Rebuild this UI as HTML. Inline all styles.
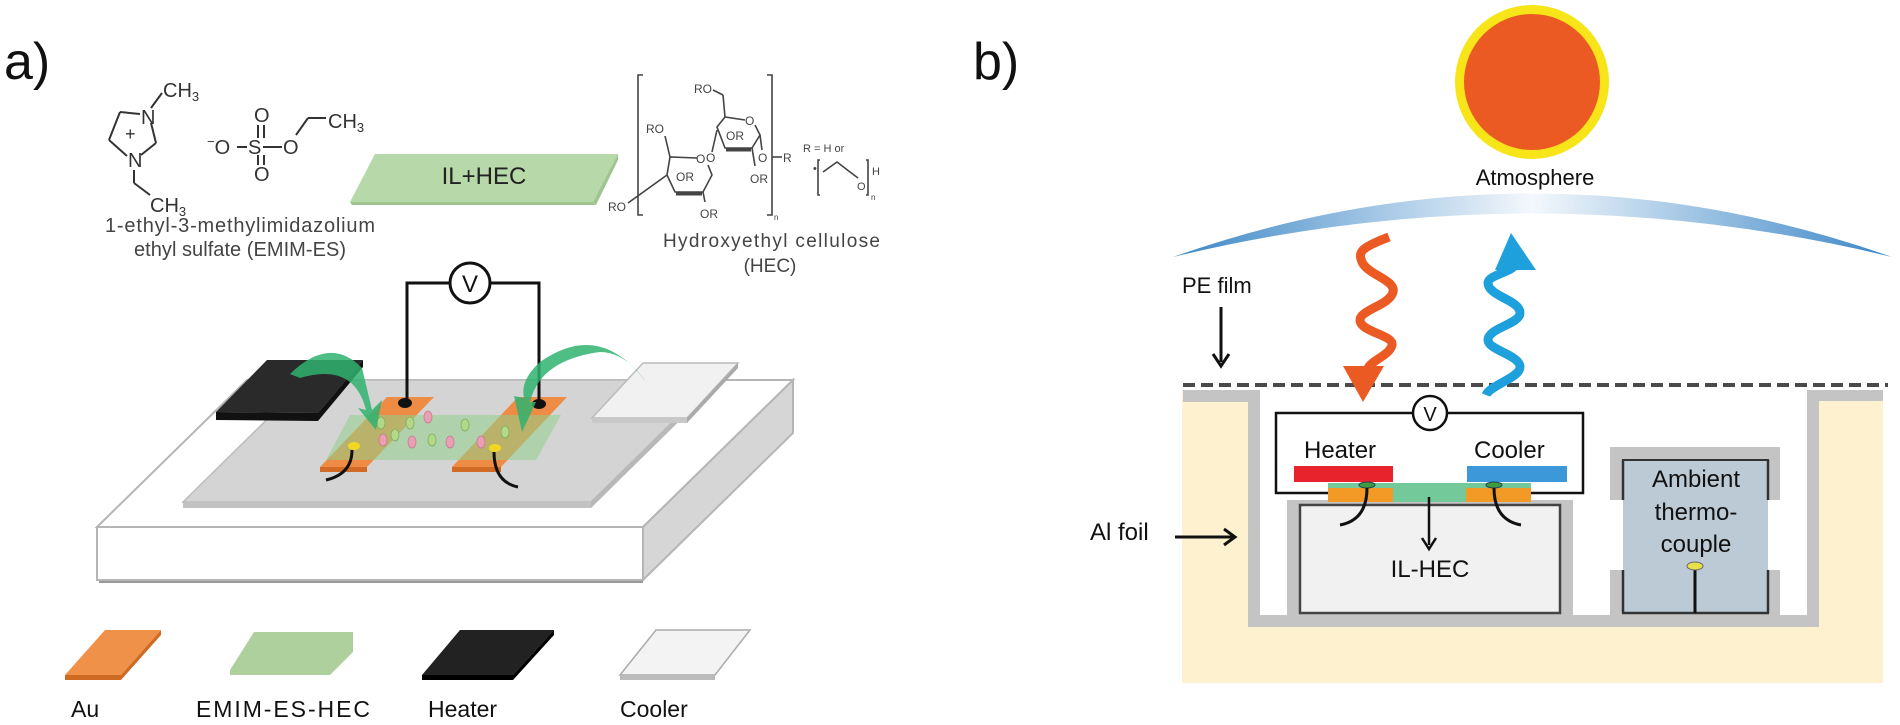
<!DOCTYPE html>
<html><head><meta charset="utf-8"><style>
html,body{margin:0;padding:0;background:#fff;}
svg{display:block;}
text{font-family:"Liberation Sans",Arial,sans-serif;}
</style></head><body>
<svg width="1900" height="725" viewBox="0 0 1900 725" xmlns="http://www.w3.org/2000/svg">
<defs>
<linearGradient id="atm" x1="0" x2="1" y1="0" y2="0">
<stop offset="0" stop-color="#3a86c6"/><stop offset="0.5" stop-color="#f4f8fc"/><stop offset="1" stop-color="#3a86c6"/>
</linearGradient>
</defs>

<!-- ============ PANEL A ============ -->
<text x="4" y="79" font-size="52" fill="#111">a)</text>

<!-- imidazolium -->
<g stroke="#333" stroke-width="2" fill="none">
<line x1="120" y1="112" x2="140" y2="114"/>
<line x1="151" y1="123" x2="156" y2="143"/>
<line x1="156" y1="143" x2="141" y2="155"/>
<line x1="127" y1="156" x2="109" y2="140"/>
<line x1="109" y1="140" x2="120" y2="112"/>
<line x1="151" y1="108" x2="162" y2="93"/>
<line x1="134" y1="170" x2="134" y2="183"/>
<line x1="134" y1="183" x2="150" y2="195"/>
</g>
<g font-size="20" fill="#333">
<text x="141" y="124">N</text>
<text x="128" y="167">N</text>
<text x="125" y="140" font-size="18">+</text>
<text x="163" y="97">CH<tspan font-size="13" dy="4">3</tspan></text>
<text x="150" y="212">CH<tspan font-size="13" dy="4">3</tspan></text>
</g>
<!-- sulfate -->
<g font-size="20" fill="#333">
<text x="207" y="154"><tspan font-size="13" dy="-8">−</tspan><tspan dy="8">O</tspan></text>
<text x="248" y="154">S</text>
<text x="254" y="122">O</text>
<text x="254" y="181">O</text>
<text x="283" y="154">O</text>
<text x="328" y="128">CH<tspan font-size="13" dy="4">3</tspan></text>
</g>
<g stroke="#333" stroke-width="2">
<line x1="237" y1="147" x2="247" y2="147"/>
<line x1="263" y1="147" x2="282" y2="147"/>
<line x1="258" y1="125" x2="258" y2="138"/><line x1="264" y1="125" x2="264" y2="138"/>
<line x1="258" y1="155" x2="258" y2="165"/><line x1="264" y1="155" x2="264" y2="165"/>
<line x1="296" y1="135" x2="308" y2="118"/><line x1="308" y1="118" x2="326" y2="118"/>
</g>
<text x="105" y="232" font-size="20" fill="#444" textLength="270">1-ethyl-3-methylimidazolium</text>
<text x="134" y="256" font-size="20" fill="#444" textLength="212">ethyl sulfate (EMIM-ES)</text>

<!-- IL+HEC slab -->
<polygon points="350,202 375,154 618,154 593,202" fill="#b7d8a8"/>
<polygon points="593,202 618,154 618,160 596,205" fill="#9fc48f"/>
<polygon points="350,202 593,202 596,205 352,205" fill="#9fc48f"/>
<text x="484" y="184" font-size="24" text-anchor="middle" fill="#222">IL+HEC</text>

<!-- HEC structure -->
<g stroke="#444" stroke-width="1.6" fill="none">
<polyline points="643,75 638,75 638,215 643,215"/>
<polyline points="767,75 772,75 772,215 767,215"/>
<!-- lower ring -->
<polyline points="697,158 670,157 667,175 675,192 703,192 712,175 708,165"/>
<line x1="676" y1="194" x2="702" y2="194" stroke-width="3"/>
<!-- upper ring -->
<polyline points="745,120 725,117 717,127 725,148 752,148 760,135 755,125"/>
<line x1="726" y1="150" x2="751" y2="150" stroke-width="3"/>
<line x1="712" y1="152" x2="717" y2="130"/>
<line x1="670" y1="157" x2="665" y2="136"/>
<line x1="667" y1="175" x2="628" y2="203"/>
<line x1="725" y1="117" x2="723" y2="95"/><line x1="723" y1="95" x2="713" y2="90"/>
<line x1="752" y1="148" x2="755" y2="166"/>
<line x1="760" y1="135" x2="762" y2="150"/>
<line x1="772" y1="157" x2="782" y2="157"/>
<line x1="703" y1="192" x2="705" y2="202"/>
<polyline points="820,160 818,160 818,195 820,195"/>
<polyline points="823,172 837,162 850,172 858,178"/>
<polyline points="866,160 868,160 868,195 866,195"/>
</g>
<g font-size="12" fill="#444">
<text x="608" y="211">RO</text>
<text x="646" y="133">RO</text>
<text x="694" y="93">RO</text>
<text x="676" y="181">OR</text>
<text x="726" y="140">OR</text>
<text x="706" y="162">O</text>
<text x="745" y="125">O</text>
<text x="696" y="163">O</text>
<text x="750" y="183">OR</text>
<text x="700" y="218">OR</text>
<text x="758" y="162">O</text>
<text x="783" y="162">R</text>
<text x="803" y="152" font-size="11">R = H or</text>
<text x="813" y="172" font-size="11">•</text>
<text x="857" y="190" font-size="11">O</text>
<text x="872" y="175" font-size="11">H</text>
<text x="871" y="200" font-size="8">n</text>
<text x="774" y="220" font-size="8">n</text>
</g>
<text x="663" y="247" font-size="19" fill="#444" textLength="217">Hydroxyethyl cellulose</text>
<text x="770" y="272" font-size="19" fill="#444" text-anchor="middle">(HEC)</text>

<!-- base block -->
<polygon points="97,527 247,380 793,380 643,527" fill="#fff" stroke="#b5b5b5" stroke-width="2"/>
<polygon points="643,527 793,380 793,433 643,580" fill="#d6d6d6" stroke="#b5b5b5" stroke-width="2"/>
<rect x="97" y="527" width="546" height="53" fill="#fff" stroke="#b5b5b5" stroke-width="2"/>
<line x1="99" y1="582" x2="643" y2="582" stroke="#999" stroke-width="2"/>

<!-- gray plate -->
<polygon points="183,502 307,380 715,380 591,502" fill="#d4d4d4" stroke="#bcbcbc" stroke-width="1.5"/>
<polygon points="183,502 591,502 591,508 183,508" fill="#c2c2c2"/>
<polygon points="591,502 715,380 715,386 591,508" fill="#b8b8b8"/>

<!-- heater pad -->
<polygon points="216,412 267,360 363,360 318,413" fill="#2a2a2a"/>
<polygon points="216,412 318,413 318,421 216,420" fill="#111"/>
<polygon points="318,413 363,360 363,367 318,421" fill="#111"/>

<!-- cooler pad -->
<polygon points="592,418 643,363 738,363 687,418" fill="#f1f1f1" stroke="#bbb" stroke-width="1.5"/>
<polygon points="592,418 687,418 687,423 592,423" fill="#c8c8c8"/>
<polygon points="687,418 738,363 738,368 687,423" fill="#aaa"/>

<!-- Au pads -->
<polygon points="320,467 387,397 434,397 367,467" fill="#ee8c45"/>
<polygon points="320,467 367,467 367,472 320,472" fill="#d06a24"/>
<polygon points="452,467 518,397 567,397 501,467" fill="#ee8c45"/>
<polygon points="452,467 501,467 501,472 452,472" fill="#d06a24"/>
<!-- film -->
<polygon points="326,460 350,415 561,415 536,460" fill="#8fcf8a" opacity="0.55"/>
<g fill="#b4d88a" stroke="#7fae5a" stroke-width="0.8">
<ellipse cx="381" cy="423" rx="4" ry="6"/><ellipse cx="410" cy="423" rx="4" ry="6"/>
<ellipse cx="395" cy="435" rx="4" ry="6"/><ellipse cx="432" cy="440" rx="4" ry="6"/>
<ellipse cx="465" cy="425" rx="4" ry="6"/><ellipse cx="505" cy="432" rx="4" ry="6"/>
</g>
<g fill="#e9a0b4" stroke="#c77a90" stroke-width="0.8">
<ellipse cx="428" cy="417" rx="4" ry="6"/><ellipse cx="383" cy="440" rx="4" ry="6"/>
<ellipse cx="412" cy="442" rx="4" ry="6"/><ellipse cx="450" cy="442" rx="4" ry="6"/>
<ellipse cx="481" cy="442" rx="4" ry="6"/>
</g>
<!-- wires + V -->
<polyline points="407,402 407,283 539,283 539,403" fill="none" stroke="#111" stroke-width="3"/>
<circle cx="470" cy="283" r="20" fill="#fff" stroke="#111" stroke-width="3"/>
<text x="470" y="292" font-size="24" text-anchor="middle" fill="#111">V</text>
<ellipse cx="405" cy="403" rx="7" ry="5" fill="#111"/>
<ellipse cx="539" cy="404" rx="7" ry="5" fill="#111"/>
<ellipse cx="354" cy="446" rx="6" ry="4" fill="#f2d624"/>
<ellipse cx="495" cy="448" rx="6" ry="4" fill="#f2d624"/>
<path d="M352,450 Q352,474 326,480" fill="none" stroke="#111" stroke-width="3"/>
<path d="M494,452 Q494,482 518,487" fill="none" stroke="#111" stroke-width="3"/>
<!-- green arrows -->
<g fill="#2fb36e" opacity="0.85">
<path d="M290,374 Q330,335 362,368 L372,410 L382,400 L376,430 L358,408 L366,410 Q354,362 300,378 Z"/>
<path d="M646,382 Q600,320 540,362 Q520,380 524,398 L514,396 L522,432 L536,402 L530,402 Q540,360 600,352 Q625,352 646,382 Z"/>
</g>

<!-- legend -->
<polygon points="65,675 105,630 161,630 121,675" fill="#f0914a"/>
<polygon points="65,675 121,675 121,680 65,680" fill="#cf6a22"/>
<polygon points="121,675 161,630 161,635 121,680" fill="#cf6a22"/>
<polygon points="230,670 254,632 353,632 353,652 330,675 230,675" fill="#add09d"/>
<polygon points="422,675 460,630 554,630 513,675" fill="#222"/>
<polygon points="422,675 513,675 513,680 422,680" fill="#000"/>
<polygon points="513,675 554,630 554,635 513,680" fill="#000"/>
<polygon points="620,675 656,630 750,630 715,675" fill="#f3f3f3" stroke="#aaa" stroke-width="1.5"/>
<polygon points="620,675 715,675 715,680 620,680" fill="#bbb"/>
<g font-size="23" fill="#111">
<text x="71" y="717">Au</text>
<text x="196" y="717" textLength="174">EMIM-ES-HEC</text>
<text x="428" y="717">Heater</text>
<text x="620" y="717">Cooler</text>
</g>

<!-- ============ PANEL B ============ -->
<text x="973" y="79" font-size="52" fill="#111">b)</text>
<circle cx="1532" cy="82" r="77" fill="#f7e51a"/>
<circle cx="1532" cy="82" r="68" fill="#ec5a24"/>
<text x="1535" y="185" font-size="22" text-anchor="middle" fill="#111">Atmosphere</text>
<path d="M1173,257 Q1532,130 1892,257 Q1532,170 1173,257 Z" fill="url(#atm)"/>

<text x="1182" y="293" font-size="22" fill="#111">PE film</text>
<line x1="1221" y1="307" x2="1221" y2="362" stroke="#111" stroke-width="3"/>
<polyline points="1213,354 1221,366 1229,354" fill="none" stroke="#111" stroke-width="3"/>

<!-- yellow enclosure -->
<rect x="1182" y="390" width="701" height="293" fill="#fdf1cf"/>
<rect x="1260" y="390" width="547" height="225" fill="#fff"/>
<rect x="1183" y="390" width="77" height="12" fill="#c4c4c4"/>
<rect x="1248" y="390" width="12" height="237" fill="#c4c4c4"/>
<rect x="1807" y="390" width="76" height="11" fill="#c4c4c4"/>
<rect x="1807" y="390" width="12" height="237" fill="#c4c4c4"/>
<rect x="1248" y="615" width="571" height="12" fill="#c4c4c4"/>

<!-- IL-HEC box -->
<rect x="1287" y="500" width="286" height="115" fill="#c4c4c4"/>
<rect x="1300" y="505" width="260" height="108" fill="#f1f1f1" stroke="#444" stroke-width="2.5"/>

<!-- thermocouple box -->
<rect x="1610" y="447" width="170" height="53" fill="#c4c4c4"/>
<rect x="1610" y="570" width="170" height="45" fill="#c4c4c4"/>
<rect x="1623" y="460" width="145" height="153" fill="#bccad5"/>
<line x1="1623" y1="460" x2="1623" y2="500" stroke="#333" stroke-width="2.5"/>
<line x1="1768" y1="460" x2="1768" y2="500" stroke="#333" stroke-width="2.5"/>
<line x1="1622" y1="460" x2="1769" y2="460" stroke="#333" stroke-width="2"/>
<line x1="1623" y1="570" x2="1623" y2="613" stroke="#333" stroke-width="2.5"/>
<line x1="1768" y1="570" x2="1768" y2="613" stroke="#333" stroke-width="2.5"/>
<line x1="1622" y1="613" x2="1769" y2="613" stroke="#333" stroke-width="2.5"/>
<g font-size="24" fill="#111" text-anchor="middle">
<text x="1696" y="487">Ambient</text>
<text x="1696" y="520">thermo-</text>
<text x="1696" y="552">couple</text>
</g>
<line x1="1695" y1="567" x2="1695" y2="613" stroke="#111" stroke-width="3"/>
<ellipse cx="1695" cy="566" rx="8" ry="4" fill="#e8e04a" stroke="#666" stroke-width="1"/>

<!-- dashed PE film -->
<line x1="1183" y1="385" x2="1888" y2="385" stroke="#4a4a4a" stroke-width="4" stroke-dasharray="12,6"/>

<!-- circuit -->
<rect x="1276" y="413" width="307" height="80" fill="none" stroke="#111" stroke-width="2.5"/>
<circle cx="1430" cy="413" r="17" fill="#fff" stroke="#111" stroke-width="2.5"/>
<text x="1430" y="421" font-size="20" text-anchor="middle" fill="#111">V</text>
<text x="1304" y="458" font-size="24" fill="#111">Heater</text>
<text x="1474" y="458" font-size="24" fill="#111">Cooler</text>
<rect x="1294" y="466" width="99" height="16" fill="#e8232c"/>
<rect x="1467" y="466" width="100" height="16" fill="#3d98da"/>
<rect x="1328" y="487" width="65" height="15" fill="#f39a26"/>
<rect x="1466" y="487" width="65" height="15" fill="#f39a26"/>
<rect x="1393" y="483" width="73" height="19" fill="#74c99a"/>
<rect x="1328" y="483" width="203" height="5" fill="#74c99a"/>
<ellipse cx="1367" cy="485" rx="8" ry="3" fill="#3f9a40" stroke="#245"/>
<ellipse cx="1494" cy="485" rx="8" ry="3" fill="#3f9a40" stroke="#245"/>
<path d="M1367,488 Q1367,520 1340,525" fill="none" stroke="#111" stroke-width="3"/>
<path d="M1494,488 Q1494,520 1521,525" fill="none" stroke="#111" stroke-width="3"/>
<line x1="1429" y1="497" x2="1429" y2="545" stroke="#111" stroke-width="2.5"/>
<polyline points="1422,538 1429,549 1436,538" fill="none" stroke="#111" stroke-width="2.5"/>
<text x="1430" y="577" font-size="24" text-anchor="middle" fill="#111">IL-HEC</text>

<text x="1090" y="540" font-size="24" fill="#111">Al foil</text>
<line x1="1175" y1="537" x2="1233" y2="537" stroke="#111" stroke-width="3"/>
<polyline points="1224,529 1235,537 1224,545" fill="none" stroke="#111" stroke-width="3"/>

<!-- wavy arrows -->
<path d="M1389,237 C1360,248 1358,252 1362,262 C1368,275 1396,280 1393,292 C1390,305 1360,310 1360,320 C1360,332 1394,335 1392,345 C1390,355 1372,360 1368,368" fill="none" stroke="#ec5a24" stroke-width="9"/>
<polygon points="1343,366 1384,366 1363,402" fill="#ec5a24"/>
<path d="M1486,395 C1490,385 1520,378 1520,367 C1520,355 1488,350 1488,340 C1488,328 1520,324 1520,313 C1520,300 1488,296 1488,283 C1488,275 1512,272 1515,265" fill="none" stroke="#1ea0dc" stroke-width="9"/>
<polygon points="1495,270 1536,270 1511,233" fill="#1ea0dc"/>
</svg>
</body></html>
